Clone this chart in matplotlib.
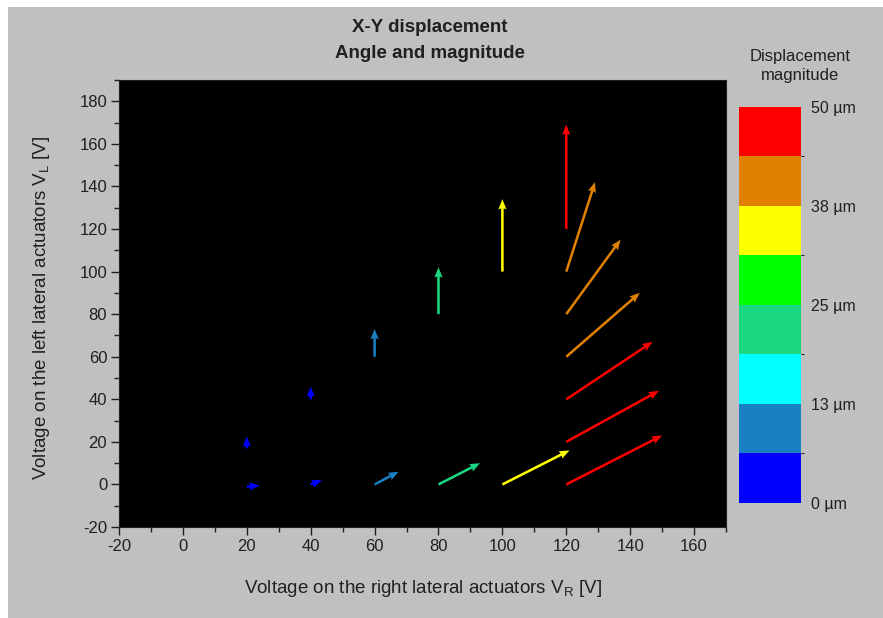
import matplotlib
matplotlib.use('Agg')
import matplotlib.pyplot as plt
import matplotlib.colors as mcolors
import matplotlib.patches as mpatches
from matplotlib.colorbar import ColorbarBase
from matplotlib.ticker import MultipleLocator

plt.rcParams['font.family'] = ['Liberation Sans', 'DejaVu Sans']
plt.rcParams['mathtext.default'] = 'regular'
plt.rcParams['axes.unicode_minus'] = False

# arrow tails (V_R, V_L), displacement vectors and magnitude (um)
x0 = [20, 40, 60, 80, 100, 120, 120, 120, 120, 120, 120, 120, 100, 80, 60, 40, 20]
y0 = [-1, 0, 0, 0, 0, 0, 20, 40, 60, 80, 100, 120, 100, 80, 60, 40, 17]
u = [4, 3.5, 7.5, 13, 21, 30, 29, 27, 23, 17, 9, 0, 0, 0, 0, 0, 0]
v = [0.5, 2, 6, 10, 16, 23, 24, 27, 30, 35, 42, 49, 34, 22, 13, 6, 5.5]
mag = [3, 3, 9, 21, 35, 47, 47, 46, 42, 41, 40, 48, 34, 22, 10, 4, 3]

# colour scale
seg_colors = ['#0000ff', '#1a80c4', '#00ffff', '#1ad880',
              '#00ff00', '#ffff00', '#e08000', '#ff0000']
bounds = [0, 6.25, 12.5, 18.75, 25, 31.25, 37.5, 43.75, 50]
cb_ticks = [0, 12.5, 25, 37.5, 50]
cb_labels = ['0 µm', '13 µm', '25 µm', '38 µm', '50 µm']

cmap = mcolors.ListedColormap(seg_colors)
norm = mcolors.BoundaryNorm(bounds, cmap.N)

fig = plt.figure(figsize=(8.83, 6.18), dpi=100, facecolor='white')
fig.patches.append(mpatches.Rectangle((8 / 883, 0), 1, 1 - 7 / 618,
                                      transform=fig.transFigure,
                                      facecolor='#c0c0c0', edgecolor='none',
                                      zorder=-10))

ax = fig.add_axes([0.1348, 0.1472, 0.6874, 0.7234])
ax.set_facecolor('black')
ax.quiver(x0, y0, u, v, mag, cmap=cmap, norm=norm,
          angles='xy', scale_units='xy', scale=1,
          width=0.0042, headwidth=3.2, headlength=4, headaxislength=3.6)

ax.set_xlim(-20, 170)
ax.set_ylim(-20, 190)
ax.xaxis.set_major_locator(MultipleLocator(20))
ax.xaxis.set_minor_locator(MultipleLocator(10))
ax.yaxis.set_major_locator(MultipleLocator(20))
ax.yaxis.set_minor_locator(MultipleLocator(10))
ax.tick_params(which='both', direction='out', top=False, right=False,
               colors='#202020', labelsize=12, width=1)
ax.tick_params(which='major', length=5.5, pad=3)
ax.tick_params(which='minor', length=3.5)
for s in ax.spines.values():
    s.set_color('#202020')

ax.set_xlabel('Voltage on the right lateral actuators V$_R$ [V]', fontsize=13.5,
              color='#202020', va='center')
ax.set_ylabel('Voltage on the left lateral actuators V$_L$ [V]', fontsize=13.5,
              color='#202020', va='center')
ax.xaxis.set_label_coords(0.5, -0.1365)
ax.yaxis.set_label_coords(-0.127, 0.49)

fig.text(430 / 883, 1 - 28 / 618, 'X-Y displacement', ha='center', va='center',
         fontsize=13.5, fontweight='bold', color='#202020')
fig.text(430 / 883, 1 - 54 / 618, 'Angle and magnitude', ha='center', va='center',
         fontsize=13.5, fontweight='bold', color='#202020')

cax = fig.add_axes([0.8369, 0.1861, 0.0702, 0.6408])
cb = ColorbarBase(cax, cmap=cmap, norm=norm, boundaries=bounds,
                  orientation='vertical')
cb.outline.set_visible(False)
cb.set_ticks(cb_ticks)
cb.set_ticklabels(cb_labels)
cax.tick_params(length=0, pad=7, labelsize=11.5, colors='#202020')

fig.text(800 / 883, 1 - 66 / 618, 'Displacement\nmagnitude', ha='center',
         va='center', fontsize=12, color='#202020', linespacing=1.35)

fig.savefig('out.png', dpi=100, facecolor=fig.get_facecolor())
